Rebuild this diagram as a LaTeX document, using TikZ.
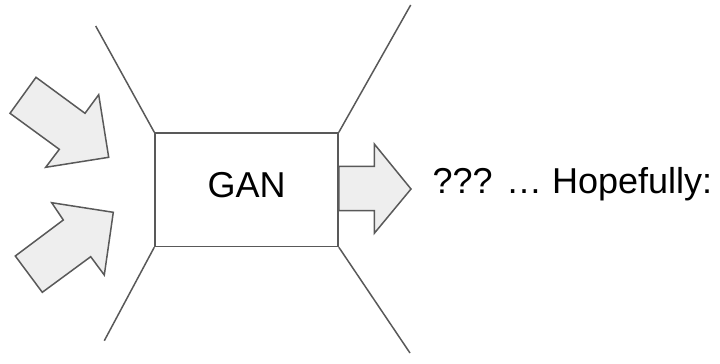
\documentclass[tikz,border=0pt]{standalone}
\usepackage{fontspec}
\setmainfont{Liberation Sans}
\definecolor{edge}{HTML}{595959}
\definecolor{arrowfill}{HTML}{EEEEEE}
\begin{document}
\begin{tikzpicture}[x=1pt,y=-1pt,
  outline/.style={draw=edge,line width=1.5pt,line join=miter},
  fatarrow/.style={outline,fill=arrowfill},
  bigtext/.style={font=\fontsize{36}{43}\selectfont,text=black,inner sep=0pt}]
\useasboundingbox (0,0) rectangle (720,364);

% central block
\node[outline,fill=white,minimum width=183pt,minimum height=113.4pt,inner sep=0pt,
      bigtext,text depth=9pt,anchor=north west] (gan) at (154.3,132.3) {GAN};

% funnel lines
\coordinate (tl) at (95.7,26);
\coordinate (bl) at (104.3,340.7);
\coordinate (tr) at (410.7,5);
\coordinate (br) at (410,353);
\draw[outline] (gan.north west) -- (tl);
\draw[outline] (gan.south west) -- (bl);
\draw[outline] (gan.north east) -- (tr);
\draw[outline] (gan.south east) -- (br);

% input arrows
\draw[fatarrow] (36,77.3) -- (85,113.3) -- (98.7,94.7) -- (108.7,157.3)
  -- (45.7,167.3) -- (59.3,149.3) -- (10,113.3) -- cycle;
\draw[fatarrow] (51.7,202.7) -- (113.3,212.3) -- (104.3,275) -- (90.7,256.7)
  -- (42.3,292.3) -- (15.3,256) -- (63.3,220) -- cycle;

% output arrow
\draw[fatarrow] (gan.east |- 0,166.3) -- (374.3,166.3) -- (374.3,144) -- (411,189)
  -- (374.3,233.3) -- (374.3,210.7) -- (gan.east |- 0,210.7) -- cycle;

% result text
\node[bigtext,anchor=base west] (result) at (432.5,193.3) {??? … Hopefully:};
\end{tikzpicture}
\end{document}
